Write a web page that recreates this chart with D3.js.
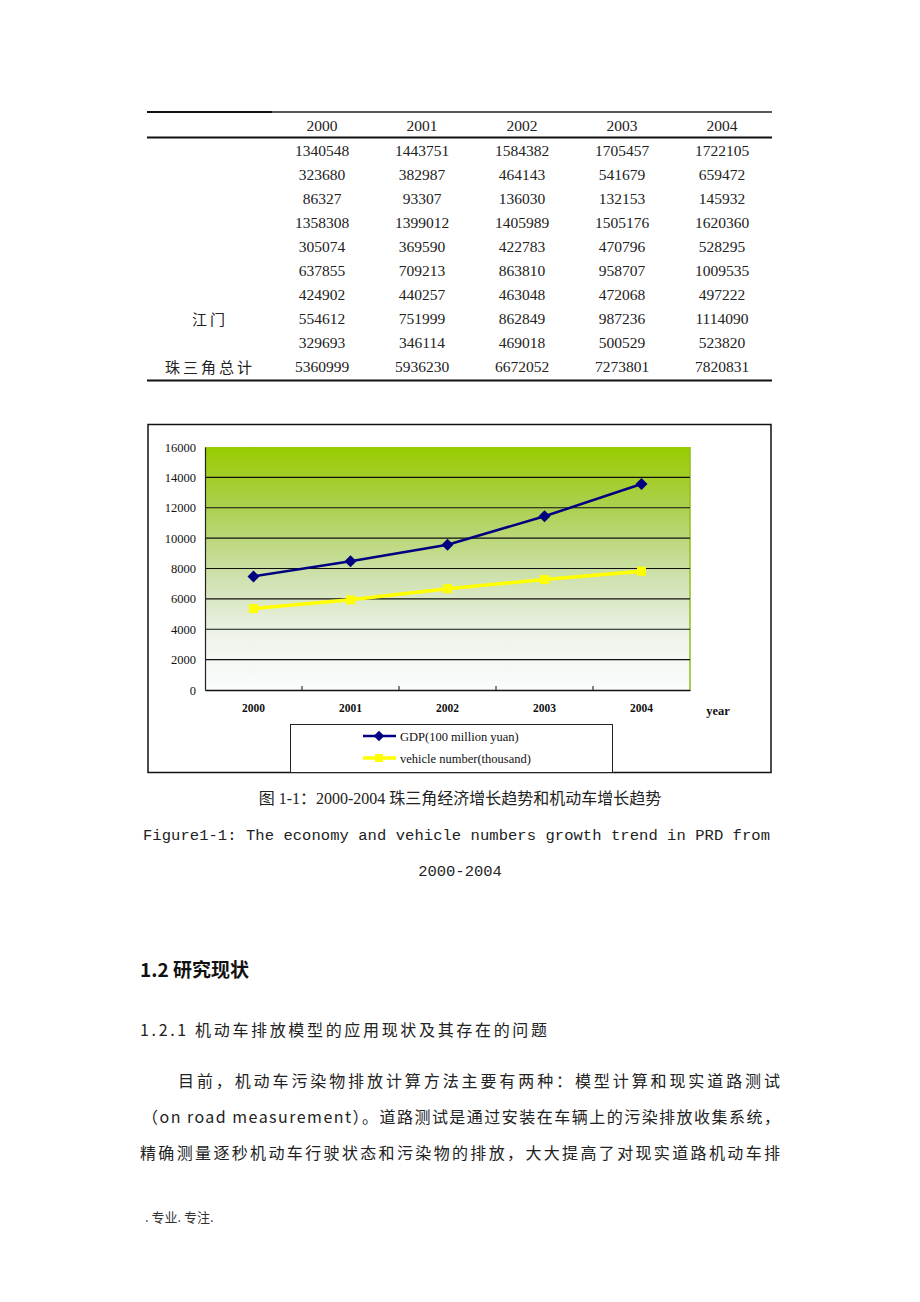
<!DOCTYPE html>
<html><head><meta charset="utf-8">
<script src="https://cdn.jsdelivr.net/npm/d3@7"></script>
<style>
html,body{margin:0;padding:0;background:#fff;}
svg{display:block;}
</style></head>
<body>
<svg id="page" width="920" height="1302"></svg>
<script>
// ---------- data ----------
const years = ["2000","2001","2002","2003","2004"];
const rowLabels = ["","","","","","","","江门","","珠三角总计"];
const tableRows = [
  [1340548,1443751,1584382,1705457,1722105],
  [323680,382987,464143,541679,659472],
  [86327,93307,136030,132153,145932],
  [1358308,1399012,1405989,1505176,1620360],
  [305074,369590,422783,470796,528295],
  [637855,709213,863810,958707,1009535],
  [424902,440257,463048,472068,497222],
  [554612,751999,862849,987236,1114090],
  [329693,346114,469018,500529,523820],
  [5360999,5936230,6672052,7273801,7820831]
];
const gdp = [7480, 8480, 9560, 11440, 13560];
const vehicles = [5361, 5936, 6672, 7274, 7821];
const yTicks = [0,2000,4000,6000,8000,10000,12000,14000,16000];
const seriesNames = ["GDP(100 million yuan)","vehicle number(thousand)"];

const svg = d3.select("#page");
const serif = "'Liberation Serif','Times New Roman',serif";
const cjk = "'Noto Sans CJK SC','Noto Sans CJK JP',sans-serif";
const mixed = "'Liberation Serif','Noto Sans CJK SC',serif";

// ---------- table ----------
const tbl = svg.append("g");
const colX = d3.scalePoint().domain(years).range([322,722]);
const rowY = d3.scaleLinear().domain([0,9]).range([151,367]);
tbl.append("line").attr("x1",147).attr("x2",272).attr("y1",112).attr("y2",112).attr("stroke","#111").attr("stroke-width",2.2);
tbl.append("line").attr("x1",272).attr("x2",772).attr("y1",112).attr("y2",112).attr("stroke","#222").attr("stroke-width",1.6);
tbl.append("line").attr("x1",147).attr("x2",772).attr("y1",137.5).attr("y2",137.5).attr("stroke","#111").attr("stroke-width",1.8);
tbl.append("line").attr("x1",147).attr("x2",772).attr("y1",380.5).attr("y2",380.5).attr("stroke","#111").attr("stroke-width",2.2);
tbl.selectAll("text.hdr").data(years).join("text").attr("class","hdr")
  .attr("x",d=>colX(d)).attr("y",131).attr("text-anchor","middle")
  .attr("font-family",serif).attr("font-size",15.5).attr("fill","#222").text(d=>d);
tableRows.forEach((row,i)=>{
  tbl.selectAll("text.r"+i).data(row).join("text").attr("class","r"+i)
    .attr("x",(d,j)=>colX(years[j])).attr("y",rowY(i)+5).attr("text-anchor","middle")
    .attr("font-family",serif).attr("font-size",15.5).attr("fill","#222").text(d=>d);
});
tbl.selectAll("text.lab").data(rowLabels).join("text").attr("class","lab")
  .attr("x",210).attr("y",(d,i)=>rowY(i)+6).attr("text-anchor","middle")
  .attr("font-family",cjk).attr("font-size",15).attr("letter-spacing",3).attr("fill","#222").text(d=>d);

// ---------- chart ----------
const ch = svg.append("g");
ch.append("rect").attr("x",148).attr("y",424.5).attr("width",623).attr("height",348)
  .attr("fill","#fff").attr("stroke","#111").attr("stroke-width",1.5);

const defs = svg.append("defs");
const grad = defs.append("linearGradient").attr("id","bg").attr("x1",0).attr("y1",0).attr("x2",0).attr("y2",1);
grad.append("stop").attr("offset","0%").attr("stop-color","#99cc00");
grad.append("stop").attr("offset","25%").attr("stop-color","#acd050");
grad.append("stop").attr("offset","55%").attr("stop-color","#d0e2b2");
grad.append("stop").attr("offset","78%").attr("stop-color","#eef3ea");
grad.append("stop").attr("offset","100%").attr("stop-color","#fbfcfd");

const pl = 205, pr = 690, pt = 447, pb = 690;
const x = d3.scaleBand().domain(years).range([pl,pr]);
const y = d3.scaleLinear().domain([0,16000]).range([pb,pt]);

ch.append("rect").attr("x",pl).attr("y",pt).attr("width",pr-pl).attr("height",pb-pt).attr("fill","url(#bg)");
ch.append("line").attr("x1",pr).attr("x2",pr).attr("y1",pt).attr("y2",pb).attr("stroke","#8fbf1a").attr("stroke-width",1.5);

// gridlines
ch.selectAll("line.grid").data(yTicks.filter(t=>t>0 && t<16000)).join("line").attr("class","grid")
  .attr("x1",pl).attr("x2",pr).attr("y1",d=>y(d)).attr("y2",d=>y(d))
  .attr("stroke","#111").attr("stroke-width",1.2);

// y axis
const yAxis = ch.append("g").attr("transform",`translate(${pl},0)`)
  .call(d3.axisLeft(y).tickValues(yTicks).tickFormat(d3.format("d")).tickSize(0).tickPadding(9));
yAxis.select(".domain").attr("stroke","#222").attr("stroke-width",1.2);
yAxis.selectAll("text").attr("font-family",serif).attr("font-size",12.5).attr("fill","#111");

// x axis
const xAxis = ch.append("g").attr("transform",`translate(0,${pb})`)
  .call(d3.axisBottom(x).tickSize(0).tickPadding(14));
xAxis.select(".domain").attr("stroke","#111").attr("stroke-width",1.6);
xAxis.selectAll("text").attr("font-family",serif).attr("font-size",11.5).attr("font-weight","bold").attr("fill","#111");
// boundary ticks (inward)
ch.selectAll("line.xt").data(years.slice(1)).join("line").attr("class","xt")
  .attr("x1",d=>x(d)).attr("x2",d=>x(d)).attr("y1",pb-4).attr("y2",pb)
  .attr("stroke","#111").attr("stroke-width",1);
ch.append("text").attr("x",718).attr("y",715).attr("text-anchor","middle")
  .attr("font-family",serif).attr("font-size",12.5).attr("font-weight","bold").attr("fill","#111").text("year");

const cx = d => x(d) + x.bandwidth()/2;
const line = d3.line().x((d,i)=>cx(years[i])).y(d=>y(d));

// vehicle line
ch.append("path").datum(vehicles).attr("d",line).attr("fill","none").attr("stroke","#ffff00").attr("stroke-width",3.5);
ch.selectAll("rect.vm").data(vehicles).join("rect").attr("class","vm")
  .attr("x",(d,i)=>cx(years[i])-4.5).attr("y",d=>y(d)-4.5).attr("width",9).attr("height",9).attr("fill","#ffff00");
// gdp line
ch.append("path").datum(gdp).attr("d",line).attr("fill","none").attr("stroke","#000080").attr("stroke-width",2.5);
ch.selectAll("path.gm").data(gdp).join("path").attr("class","gm")
  .attr("d",d3.symbol().type(d3.symbolSquare).size(72)).attr("transform",(d,i)=>`translate(${cx(years[i])},${y(d)}) rotate(45)`)
  .attr("fill","#000080");

// legend
const lg = ch.append("g");
lg.append("rect").attr("x",290.5).attr("y",724.5).attr("width",322).attr("height",48).attr("fill","#fff").attr("stroke","#222").attr("stroke-width",1);
const legY = [736, 758];
lg.append("line").attr("x1",363).attr("x2",396).attr("y1",legY[0]).attr("y2",legY[0]).attr("stroke","#000080").attr("stroke-width",2.5);
lg.append("path").attr("d",d3.symbol().type(d3.symbolSquare).size(56)).attr("transform",`translate(379,${legY[0]}) rotate(45)`).attr("fill","#000080");
lg.append("line").attr("x1",363).attr("x2",396).attr("y1",legY[1]).attr("y2",legY[1]).attr("stroke","#ffff00").attr("stroke-width",3.5);
lg.append("rect").attr("x",375).attr("y",legY[1]-4).attr("width",8).attr("height",8).attr("fill","#ffff00");
lg.selectAll("text").data(seriesNames).join("text").attr("x",400).attr("y",(d,i)=>legY[i]+4.5)
  .attr("font-family",serif).attr("font-size",12.5).attr("fill","#111").text(d=>d);

// ---------- captions & body ----------
const t = svg.append("g").attr("fill","#222");
t.append("text").attr("x",460).attr("y",804).attr("text-anchor","middle")
  .attr("font-family",mixed).attr("font-size",16).text("图 1-1：2000-2004 珠三角经济增长趋势和机动车增长趋势");
t.append("text").attr("x",143).attr("y",840).attr("textLength",627).attr("lengthAdjust","spacing")
  .attr("font-family","'Liberation Mono','DejaVu Sans Mono',monospace").attr("font-size",15.5)
  .text("Figure1-1: The economy and vehicle numbers growth trend in PRD from");
t.append("text").attr("x",460).attr("y",876).attr("text-anchor","middle")
  .attr("font-family","'Liberation Mono','DejaVu Sans Mono',monospace").attr("font-size",15.5).text("2000-2004");

t.append("text").attr("x",140).attr("y",977).attr("font-family",cjk).attr("font-size",19).attr("font-weight","bold")
  .attr("fill","#111").text("1.2 研究现状");
t.append("text").attr("x",140).attr("y",1036).attr("font-family",cjk).attr("font-size",16)
  .attr("textLength",407).attr("lengthAdjust","spacing").text("1.2.1 机动车排放模型的应用现状及其存在的问题");

const para = [
  {x:178, w:602, s:"目前，机动车污染物排放计算方法主要有两种：模型计算和现实道路测试"},
  {x:142, w:638, s:"（on road measurement）。道路测试是通过安装在车辆上的污染排放收集系统，"},
  {x:140, w:640, s:"精确测量逐秒机动车行驶状态和污染物的排放，大大提高了对现实道路机动车排"}
];
t.selectAll("text.p").data(para).join("text").attr("class","p")
  .attr("x",d=>d.x).attr("y",(d,i)=>1087+i*36).attr("textLength",d=>d.w).attr("lengthAdjust","spacing")
  .attr("font-family",cjk).attr("font-size",16).text(d=>d.s);

t.append("text").attr("x",145).attr("y",1222).attr("font-family",cjk).attr("font-size",13).attr("fill","#333").text(". 专业. 专注.");
</script>
</body></html>
